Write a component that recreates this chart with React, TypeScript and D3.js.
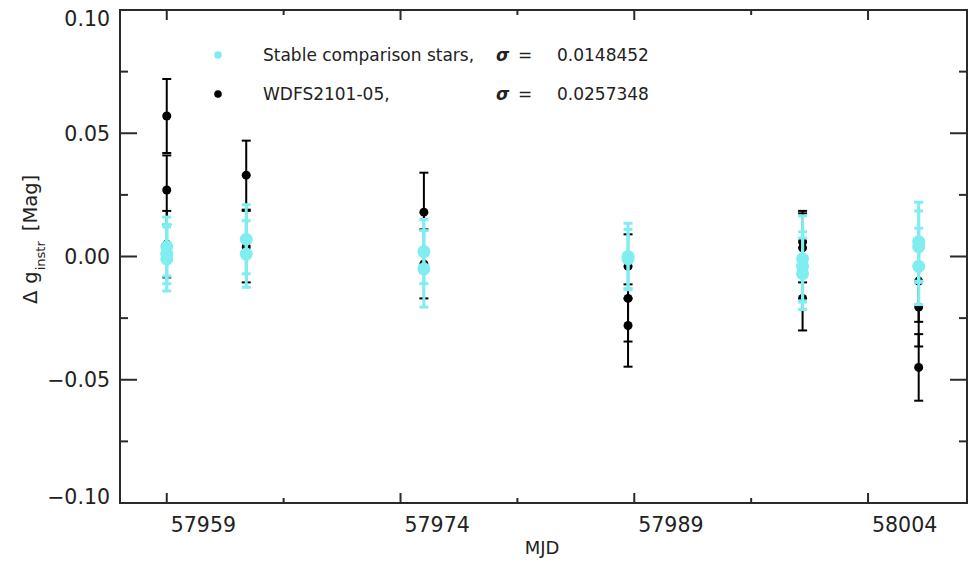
import React from "react";
import * as d3 from "d3";

// ---- data ----
const targetMjd = [57959.0, 57959.0, 57959.0, 57964.1, 57964.1, 57975.5, 57975.5, 57988.6, 57988.6, 57988.6, 57999.8, 57999.8, 57999.8, 58007.25, 58007.25, 58007.25];
const targetDmag = [0.057, 0.027, 0.005, 0.033, 0.004, 0.018, -0.003, -0.004, -0.017, -0.028, 0.006, 0.0035, -0.017, -0.010, -0.0205, -0.045];
const targetErr = [0.015, 0.014, 0.0135, 0.014, 0.0145, 0.016, 0.014, 0.013, 0.0175, 0.0167, 0.0125, 0.014, 0.013, 0.0165, 0.016, 0.0135];

const compMjd = [57959.0, 57959.0, 57959.0, 57964.1, 57964.1, 57975.5, 57975.5, 57988.6, 57988.6, 57999.8, 57999.8, 57999.8, 58007.25, 58007.25, 58007.25];
const compDmag = [0.004, 0.001, -0.001, 0.007, 0.001, 0.002, -0.005, 0.0, -0.001, -0.001, -0.004, -0.007, 0.006, 0.004, -0.004];
const compErr = [0.012, 0.012, 0.013, 0.014, 0.0135, 0.013, 0.0155, 0.0135, 0.012, 0.0175, 0.014, 0.0145, 0.016, 0.0145, 0.0155];

const xMajorTicks = [57959, 57974, 57989, 58004];
const xMinorTicks = [57966.5, 57981.5, 57996.5];
const yMajorTicks = [-0.1, -0.05, 0, 0.05, 0.1];
const yMinorTicks = [-0.075, -0.025, 0.025, 0.075];

const legendLabels = ["Stable comparison stars,", "WDFS2101-05,"];
const legendSigmas = ["0.0148452", "0.0257348"];

const CYAN = "#80eef0";
const AXIS = "#2a2a2a";
const FONT = "DejaVu Sans, sans-serif";

export default function App() {
  const W = 969, H = 563;
  const left = 120, right = 967, top = 10, bottom = 503;
  const x = d3.scaleLinear().domain([57956.0, 58010.35]).range([left, right]);
  const y = d3.scaleLinear().domain([-0.1, 0.1]).range([bottom, top]);
  const cap = 4.5;

  const fmtY = (v: number) => {
    const s = Math.abs(v).toFixed(2);
    return (v < -1e-9 ? "\u2212" : "") + s;
  };

  const errBars = (mjd: number[], val: number[], err: number[], color: string, w: number) =>
    mjd.map((m, i) => {
      const cx = x(m);
      const y1 = y(val[i] + err[i]);
      const y2 = y(val[i] - err[i]);
      return (
        <g key={i} stroke={color} strokeWidth={w}>
          <line x1={cx} x2={cx} y1={y1} y2={y2} />
          <line x1={cx - cap} x2={cx + cap} y1={y1} y2={y1} />
          <line x1={cx - cap} x2={cx + cap} y1={y2} y2={y2} />
        </g>
      );
    });

  return (
    <svg width={W} height={H} style={{ position: "absolute", left: 0, top: 0, background: "#fff" }} fontFamily={FONT}>
      <rect x={0} y={0} width={W} height={H} fill="#fff" />
      {/* data: target first, comparison on top */}
      <g>{errBars(targetMjd, targetDmag, targetErr, "#000", 2)}</g>
      <g>
        {targetMjd.map((m, i) => (
          <circle key={i} cx={x(m)} cy={y(targetDmag[i])} r={4.5} fill="#000" />
        ))}
      </g>
      <g>{errBars(compMjd, compDmag, compErr, CYAN, 3)}</g>
      <g>
        {compMjd.map((m, i) => (
          <circle key={i} cx={x(m)} cy={y(compDmag[i])} r={6.5} fill={CYAN} />
        ))}
      </g>

      {/* frame */}
      <rect x={left} y={top} width={right - left} height={bottom - top} fill="none" stroke={AXIS} strokeWidth={2} />
      {/* x ticks */}
      {xMajorTicks.map((t) => (
        <g key={"xM" + t} stroke={AXIS} strokeWidth={2}>
          <line x1={x(t)} x2={x(t)} y1={bottom} y2={bottom - 10} />
          <line x1={x(t)} x2={x(t)} y1={top} y2={top + 10} />
        </g>
      ))}
      {xMinorTicks.map((t) => (
        <g key={"xm" + t} stroke={AXIS} strokeWidth={2}>
          <line x1={x(t)} x2={x(t)} y1={bottom} y2={bottom - 5} />
          <line x1={x(t)} x2={x(t)} y1={top} y2={top + 5} />
        </g>
      ))}
      {/* y ticks */}
      {yMajorTicks.map((t) => (
        <g key={"yM" + t} stroke={AXIS} strokeWidth={2}>
          <line x1={left} x2={left + 17} y1={y(t)} y2={y(t)} />
          <line x1={right} x2={right - 17} y1={y(t)} y2={y(t)} />
        </g>
      ))}
      {yMinorTicks.map((t) => (
        <g key={"ym" + t} stroke={AXIS} strokeWidth={2}>
          <line x1={left} x2={left + 8} y1={y(t)} y2={y(t)} />
          <line x1={right} x2={right - 8} y1={y(t)} y2={y(t)} />
        </g>
      ))}
      {/* tick labels */}
      {xMajorTicks.map((t) => (
        <text key={"xl" + t} x={x(t) + 4} y={532} fontSize={20.5} fill="#222">
          {String(t)}
        </text>
      ))}
      {yMajorTicks.map((t) => {
        const yy = Math.min(Math.max(y(t), 19), 497);
        return (
          <text key={"yl" + t} x={110} y={yy} dy="0.36em" textAnchor="end" fontSize={20.5} fill="#222">
            {fmtY(t)}
          </text>
        );
      })}
      {/* axis titles */}
      <text x={542} y={548} dy="0.36em" textAnchor="middle" fontSize={18} fill="#222">MJD</text>
      <text transform="translate(37,304) rotate(-90)" textAnchor="start" fontSize={19.5} fill="#222">
        {"\u0394"}
        <tspan dx={7}>g</tspan>
        <tspan fontSize={13} baselineShift="sub" dx={1}>instr</tspan>
        <tspan dx={10}>[Mag]</tspan>
      </text>

      {/* legend */}
      {legendLabels.map((lab, i) => {
        const ly = i === 0 ? 55 : 94;
        return (
          <g key={"lg" + i} fill="#222" fontSize={17}>
            <circle cx={218} cy={ly} r={3.8} fill={i === 0 ? CYAN : "#000"} />
            <text x={263} y={ly} dy="0.36em">{lab}</text>
            <text x={496} y={ly} dy="0.36em" fontWeight="bold" fontStyle="italic">{"\u03c3"}</text>
            <text x={518} y={ly} dy="0.36em">=</text>
            <text x={557} y={ly} dy="0.36em">{legendSigmas[i]}</text>
          </g>
        );
      })}
    </svg>
  );
}
